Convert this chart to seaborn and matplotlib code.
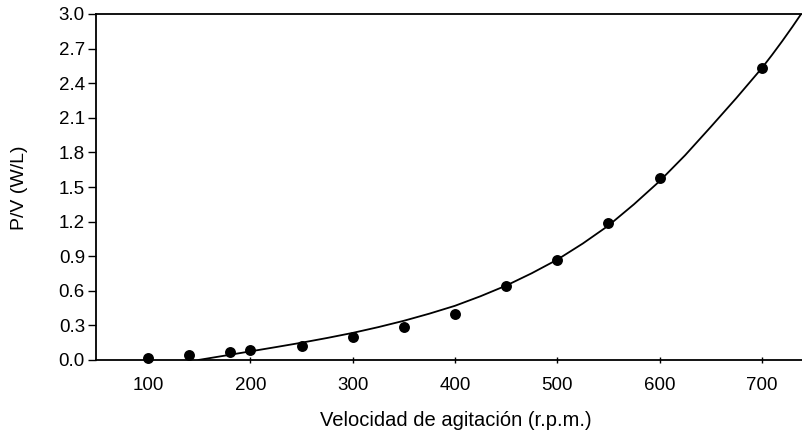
import matplotlib
matplotlib.use("Agg")
import matplotlib.pyplot as plt
import seaborn as sns
import pandas as pd

rpm = [100, 140, 180, 200, 250, 300, 350, 400, 450, 500, 550, 600, 700]
power = [0.02, 0.04, 0.07, 0.09, 0.12, 0.20, 0.29, 0.40, 0.64, 0.87, 1.19, 1.58, 2.535]

# Fitted curve
curve_rpm = [149, 175, 200, 225, 250, 275, 300, 325, 350, 375, 400, 425, 450,
             475, 500, 525, 550, 575, 600, 625, 650, 675, 700, 710, 720, 730, 740, 750]
curve_pv = [0.0, 0.038, 0.075, 0.112, 0.150, 0.191, 0.235, 0.285, 0.340, 0.402,
            0.470, 0.553, 0.645, 0.752, 0.870, 1.010, 1.165, 1.350, 1.550,
            1.775, 2.020, 2.270, 2.530, 2.645, 2.765, 2.890, 3.020, 3.150]

y_ticks = [0.0, 0.3, 0.6, 0.9, 1.2, 1.5, 1.8, 2.1, 2.4, 2.7, 3.0]
x_ticks = [100, 200, 300, 400, 500, 600, 700]

x_label = "Velocidad de agitación (r.p.m.)"
y_label = "P/V (W/L)"

df = pd.DataFrame({"rpm": rpm, "pv": power})
df_curve = pd.DataFrame({"rpm": curve_rpm, "pv": curve_pv})

sns.set_theme(style="ticks")
plt.rcParams["font.family"] = ["Liberation Sans", "DejaVu Sans"]

fig = plt.figure(figsize=(8.03, 4.41), dpi=100)
ax_w = 1 - 96 / 803 + 0.02
ax = fig.add_axes([96 / 803, 1 - 360 / 441, ax_w, (360 - 14) / 441])

sns.lineplot(data=df_curve, x="rpm", y="pv", ax=ax, color="black",
             linewidth=1.3, sort=True, estimator=None)
sns.scatterplot(data=df, x="rpm", y="pv", ax=ax, color="black", s=62,
                edgecolor="black", linewidth=0, zorder=5, clip_on=False)

ax.set_xlim(49, 756)
ax.set_ylim(0, 3.0)
ax.set_xticks(x_ticks)
ax.set_yticks(y_ticks)
ax.set_yticklabels([f"{v:.1f}" for v in y_ticks])

for s in ["left", "bottom", "top"]:
    ax.spines[s].set_visible(True)
    ax.spines[s].set_linewidth(1.3)
    ax.spines[s].set_color("black")
ax.spines["right"].set_visible(False)

ax.tick_params(axis="y", direction="out", length=6, width=1, pad=2,
               labelsize=13.5, colors="black")
ax.tick_params(axis="x", direction="inout", length=5, width=1, pad=10,
               labelsize=13.5, colors="black")

ax.set_xlabel(x_label, fontsize=14.5, color="black")
ax.set_ylabel(y_label, fontsize=14, color="black")
ax.xaxis.set_label_coords((456 - 96) / (803 * ax_w), -(420 - 360) / 346)
ax.yaxis.set_label_coords(-(96 - 20) / (803 * ax_w), (360 - 188) / 346)
ax.xaxis.label.set_verticalalignment("center")
ax.yaxis.label.set_verticalalignment("center")

fig.savefig("out.png", dpi=100)
